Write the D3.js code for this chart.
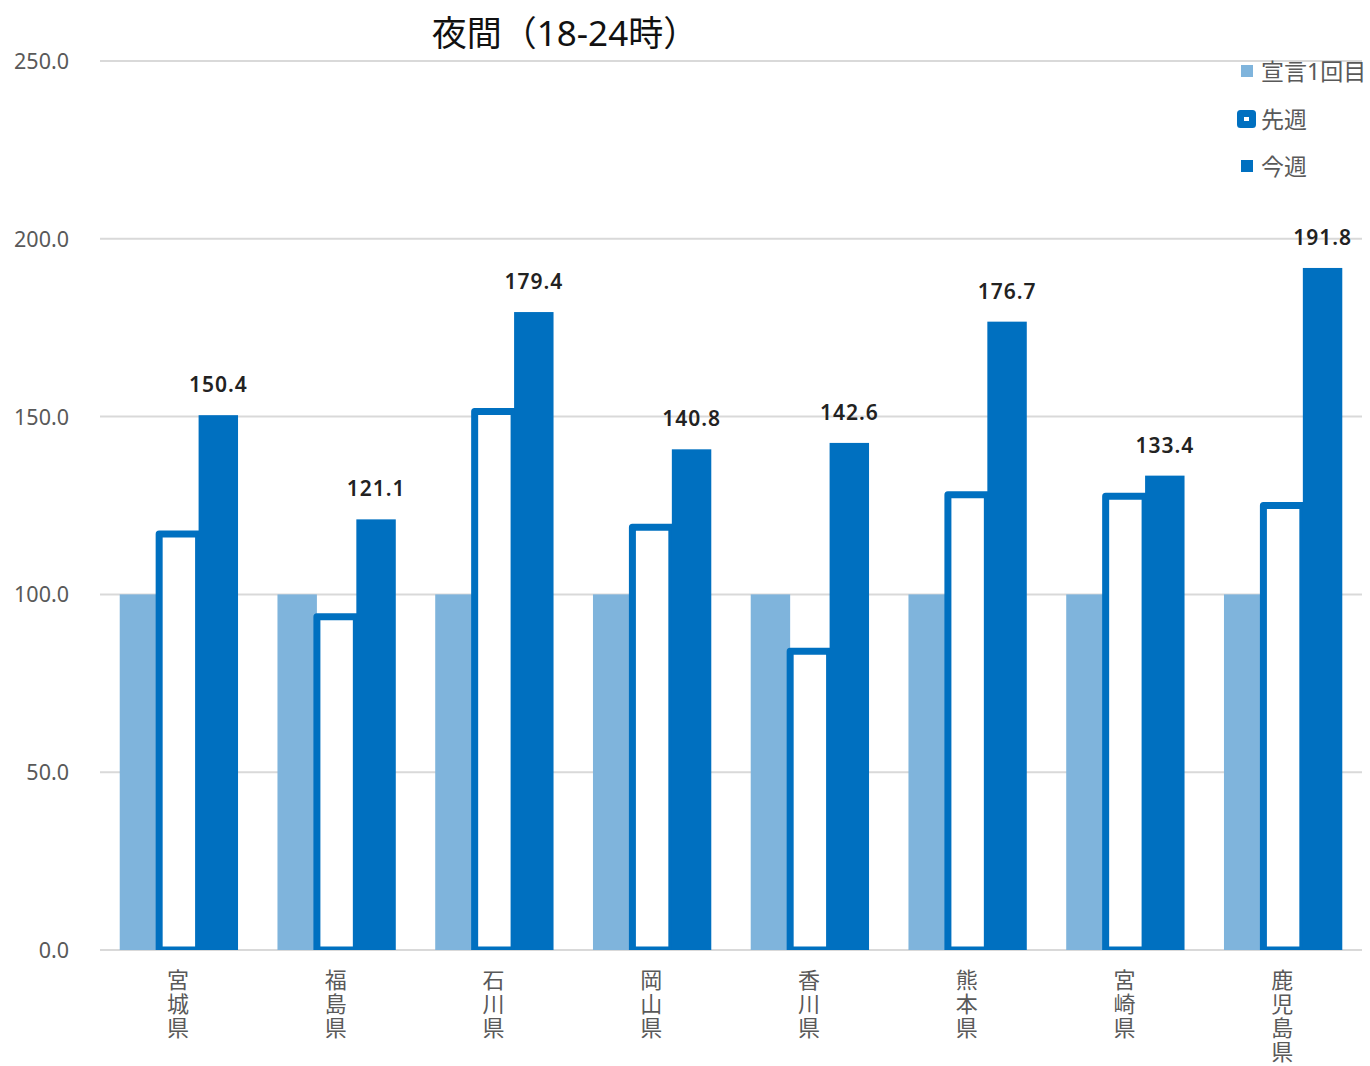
<!DOCTYPE html>
<html>
<head>
<meta charset="utf-8">
<script src="https://cdn.jsdelivr.net/npm/d3@7"></script>
<style>
  html, body { margin: 0; padding: 0; background: #fff; }
  svg { display: block; }
</style>
</head>
<body>
<svg id="chart" width="1370" height="1066"></svg>
<script>
// Prefectures along the x axis
const categories = ["宮城県", "福島県", "石川県", "岡山県", "香川県", "熊本県", "宮崎県", "鹿児島県"];
// Index values per prefecture
const declaration1 = [100, 100, 100, 100, 100, 100, 100, 100];
const lastWeek = [117.0, 93.7, 151.4, 118.9, 84.0, 128.0, 127.6, 125.0];
const thisWeek = [150.4, 121.1, 179.4, 140.8, 142.6, 176.7, 133.4, 191.8];
const seriesNames = ["宣言1回目", "先週", "今週"];
const yTicks = [0, 50, 100, 150, 200, 250];
const title = "夜間（18-24時）";

(function draw() {
  const LIGHT = "#7fb4dc";
  const DARK = "#0070c0";
  const GRID = "#d9d9d9";
  const GREY_TEXT = "#595959";
  const FONT = "'Noto Sans', 'Noto Sans CJK JP', sans-serif";

  const svg = d3.select("#chart");
  const plotLeft = 100, plotRight = 1362, plotTop = 61, plotBottom = 950;

  const x = d3.scaleBand().domain(categories).range([plotLeft, plotRight]).paddingInner(0.25).paddingOuter(0.125);
  const sub = d3.scaleBand().domain(seriesNames).range([0, x.bandwidth()]);
  const y = d3.scaleLinear().domain([0, 250]).range([plotBottom, plotTop]);

  // Title
  svg.append("text")
    .attr("x", 565).attr("y", 32)
    .attr("text-anchor", "middle").attr("dominant-baseline", "central")
    .attr("font-family", FONT).attr("font-size", 35).attr("fill", "#111")
    .text(title);

  // Horizontal gridlines
  svg.append("g").selectAll("line").data(yTicks).join("line")
    .attr("x1", plotLeft).attr("x2", plotRight)
    .attr("y1", d => y(d)).attr("y2", d => y(d))
    .attr("stroke", GRID).attr("stroke-width", 2);

  // Y axis labels
  const yAxis = d3.axisLeft(y).tickValues(yTicks).tickFormat(d3.format(".1f")).tickSize(0).tickPadding(0);
  const yg = svg.append("g").attr("transform", "translate(69,0)").call(yAxis);
  yg.select(".domain").remove();
  yg.selectAll("text")
    .attr("font-family", FONT).attr("font-size", 21.5).attr("fill", GREY_TEXT)
    .attr("dy", "0.35em");

  svg.append("defs").append("clipPath").attr("id", "plotClip")
    .append("rect").attr("x", 0).attr("y", 0).attr("width", 1370).attr("height", plotBottom);

  const bars = svg.append("g").attr("clip-path", "url(#plotClip)");

  // 宣言1回目 bars
  bars.append("g").selectAll("rect").data(categories).join("rect")
    .attr("x", d => x(d) + sub(seriesNames[0]))
    .attr("y", (d, i) => y(declaration1[i]))
    .attr("width", sub.bandwidth())
    .attr("height", (d, i) => plotBottom - y(declaration1[i]))
    .attr("fill", LIGHT);

  // 先週 bars: white fill with thick blue outline
  bars.append("g").selectAll("rect").data(categories).join("rect")
    .attr("x", d => x(d) + sub(seriesNames[1]))
    .attr("y", (d, i) => y(lastWeek[i]))
    .attr("width", sub.bandwidth())
    .attr("height", (d, i) => plotBottom - y(lastWeek[i]))
    .attr("fill", "#fff")
    .attr("stroke", DARK).attr("stroke-width", 7).attr("stroke-linejoin", "round");

  // 今週 bars
  bars.append("g").selectAll("rect").data(categories).join("rect")
    .attr("x", d => x(d) + sub(seriesNames[2]))
    .attr("y", (d, i) => y(thisWeek[i]))
    .attr("width", sub.bandwidth())
    .attr("height", (d, i) => plotBottom - y(thisWeek[i]))
    .attr("fill", DARK);

  // Value labels above 今週 bars
  svg.append("g").selectAll("text").data(categories).join("text")
    .attr("x", d => x(d) + sub(seriesNames[2]) + sub.bandwidth() / 2)
    .attr("y", (d, i) => y(thisWeek[i]) - 31)
    .attr("text-anchor", "middle").attr("dominant-baseline", "central")
    .attr("font-family", FONT).attr("font-size", 21).attr("font-weight", 600)
    .attr("letter-spacing", 1).attr("fill", "#222")
    .text((d, i) => thisWeek[i].toFixed(1));

  // Vertical category labels (top-to-bottom writing mode)
  svg.append("g").selectAll("text").data(categories).join("text")
    .attr("x", d => x(d) + x.bandwidth() / 2 - 2)
    .attr("y", 969)
    .style("writing-mode", "vertical-rl")
    .style("text-orientation", "upright")
    .attr("letter-spacing", 2)
    .attr("font-family", FONT).attr("font-size", 22).attr("fill", GREY_TEXT)
    .text(d => d);

  // Legend
  const legend = svg.append("g");
  const legendRows = [
    { name: seriesNames[0], cy: 71 },
    { name: seriesNames[1], cy: 119 },
    { name: seriesNames[2], cy: 166 }
  ];
  legend.append("rect").attr("x", 1241).attr("y", legendRows[0].cy - 6).attr("width", 12).attr("height", 12).attr("fill", LIGHT);
  legend.append("rect").attr("x", 1240.5).attr("y", legendRows[1].cy - 5.5).attr("width", 12).attr("height", 11)
    .attr("fill", "#fff").attr("stroke", DARK).attr("stroke-width", 7).attr("stroke-linejoin", "round");
  legend.append("rect").attr("x", 1241).attr("y", legendRows[2].cy - 6).attr("width", 12).attr("height", 12).attr("fill", DARK);
  legend.selectAll("text").data(legendRows).join("text")
    .attr("x", 1261).attr("y", d => d.cy)
    .attr("dominant-baseline", "central")
    .attr("font-family", FONT).attr("font-size", 23).attr("fill", GREY_TEXT)
    .text(d => d.name);
})();
</script>
</body>
</html>
